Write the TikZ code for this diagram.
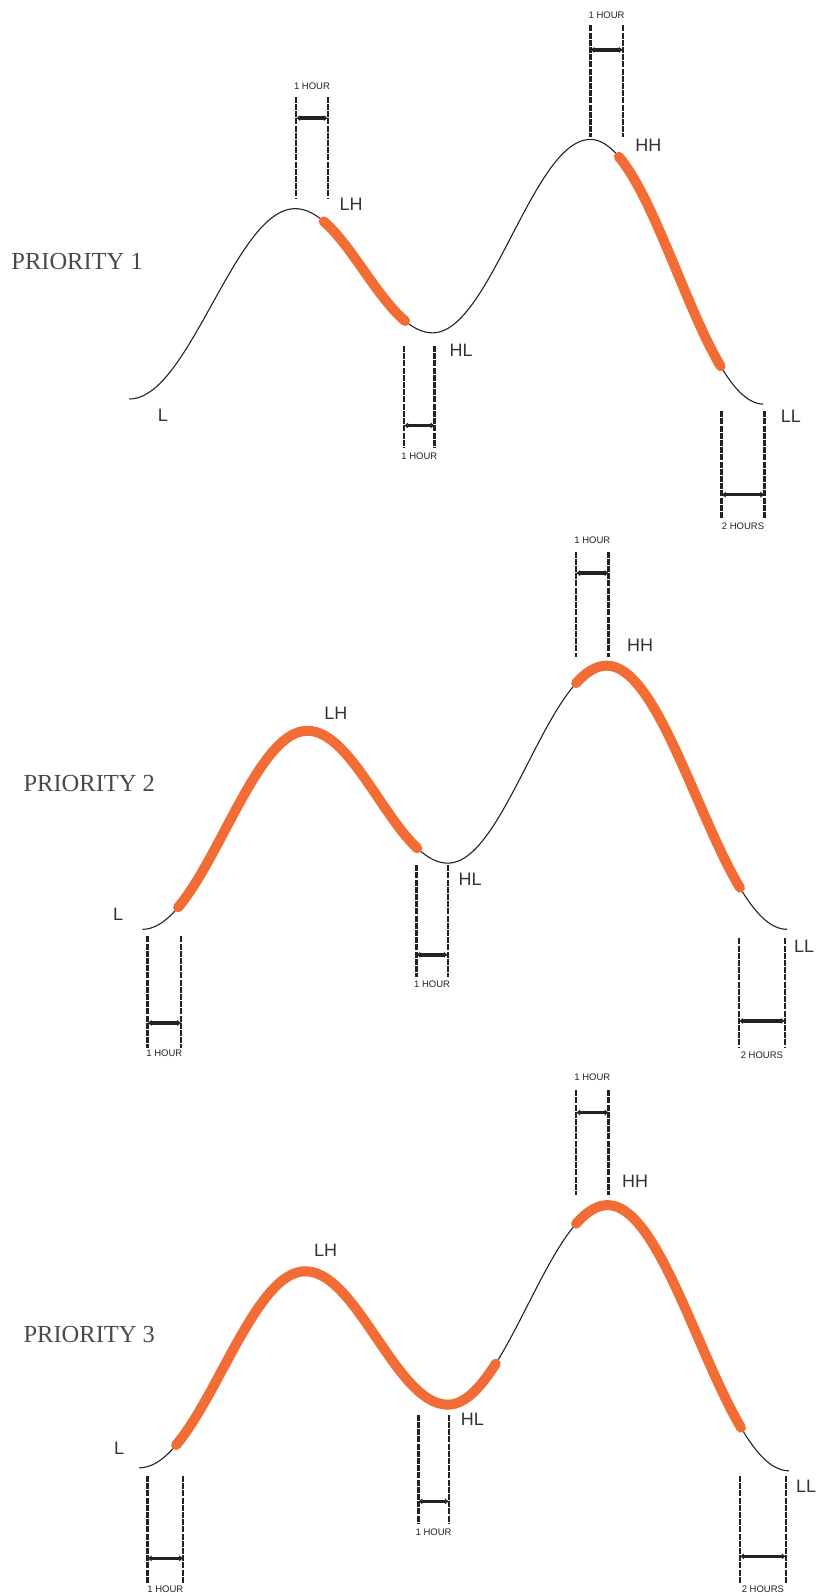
\documentclass[tikz,border=0pt]{standalone}
\usepackage{fontspec}
\setmainfont{Liberation Sans}
\newfontfamily\serifpr{Liberation Serif}
\usetikzlibrary{arrows.meta}
\definecolor{orng}{HTML}{F26D35}
\definecolor{dk}{HTML}{222222}
\definecolor{txt}{HTML}{333333}
\definecolor{prio}{HTML}{4A4A4A}
% cosine segment: [style]{x0}{y0}{x1}{y1}{from}{to}
\newcommand\cseg[7][]{\draw[#1] plot[domain=#6:#7, samples=50, smooth] (\x,{#3+(#5-#3)*(1-cos((\x-#2)/(#4-#2)*180))/2});}
% hour marker: {name}{x1}{x2}{ytop}{ybot}{yarrow}{ytext}{text}
\newcommand\hourmark[8]{%
  \coordinate (#1a) at (#2,#4); \coordinate (#1b) at (#2,#5);
  \coordinate (#1c) at (#3,#4); \coordinate (#1d) at (#3,#5);
  \coordinate (#1l) at (#2,#6); \coordinate (#1r) at (#3,#6);
  \draw[vline] (#1a) -- (#1b);
  \draw[vline] (#1c) -- (#1d);
  \draw[spanarrow] (#1l) -- (#1r);
  \node[small] (#1t) at ({(#2+#3)/2},#7) {#8};}
\begin{document}
\begin{tikzpicture}[x=1.0175pt,y=-1.0175pt,
  curve/.style={line width=1.1pt, draw=dk},
  hl/.style={line width=10pt, draw=orng, line cap=round},
  vline/.style={line width=2.5pt, draw=dk, dash pattern=on 6pt off 1.2pt},
  spanarrow/.style={line width=3.6pt, draw=dk, {Latex[length=4pt,width=6.5pt]}-{Latex[length=4pt,width=6.5pt]}},
  lab/.style={font=\fontsize{18}{18}\selectfont, text=txt, inner sep=0pt},
  small/.style={font=\fontsize{9.5}{10}\selectfont, text=dk, inner sep=0pt},
  prlab/.style={font=\serifpr\fontsize{24.5}{25}\selectfont, text=prio, inner sep=0pt, anchor=west}]
\useasboundingbox (0,0) rectangle (803,1568);

% ---------------- Panel 1 ----------------
\node[prlab] (p1) at (11,257) {PRIORITY 1};
\cseg[curve]{127}{392}{290}{205}{127}{290}
\cseg[curve]{290}{205}{425}{327}{290}{425}
\cseg[curve]{425}{327}{580}{137}{425}{580}
\cseg[curve]{580}{137}{750}{397}{580}{750}
\cseg[hl]{290}{205}{425}{327}{318}{398}
\cseg[hl]{580}{137}{750}{397}{608}{708}
\node[lab] (l1) at (160,408) {L};
\node[lab] (lh1) at (345,201) {LH};
\node[lab] (hl1) at (453,344) {HL};
\node[lab] (hh1) at (637,143) {HH};
\node[lab] (ll1) at (777,409) {LL};
\hourmark{m1a}{291}{322}{95}{195}{116}{85}{1 HOUR}
\hourmark{m1b}{580}{612}{25}{135}{49}{15}{1 HOUR}
\hourmark{m1c}{397}{427}{340}{440}{418}{448}{1 HOUR}
\hourmark{m1d}{709}{751}{404}{510}{486}{517}{2 HOURS}

% ---------------- Panel 2 ----------------
\node[prlab] (p2) at (23,770) {PRIORITY 2};
\cseg[curve]{140}{913}{302}{718}{140}{302}
\cseg[curve]{302}{718}{440}{848}{302}{440}
\cseg[curve]{440}{848}{596}{654}{440}{596}
\cseg[curve]{596}{654}{773}{913}{596}{773}
\cseg[hl]{140}{913}{302}{718}{175}{302}
\cseg[hl]{302}{718}{440}{848}{302}{410}
\cseg[hl]{440}{848}{596}{654}{566}{596}
\cseg[hl]{596}{654}{773}{913}{596}{727}
\node[lab] (l2) at (116,898) {L};
\node[lab] (lh2) at (330,701) {LH};
\node[lab] (hl2) at (462,864) {HL};
\node[lab] (hh2) at (629,634) {HH};
\node[lab] (ll2) at (790,930) {LL};
\hourmark{m2a}{566}{598}{542}{645}{563}{531}{1 HOUR}
\hourmark{m2b}{409}{440}{850}{960}{938}{967}{1 HOUR}
\hourmark{m2c}{145}{178}{920}{1030}{1005}{1035}{1 HOUR}
\hourmark{m2d}{726}{771}{922}{1030}{1003}{1037}{2 HOURS}

% ---------------- Panel 3 ----------------
\node[prlab] (p3) at (23,1311) {PRIORITY 3};
\cseg[curve]{137}{1442}{300}{1249}{137}{300}
\cseg[curve]{300}{1249}{440}{1380}{300}{440}
\cseg[curve]{440}{1380}{597}{1184}{440}{597}
\cseg[curve]{597}{1184}{775}{1445}{597}{775}
\cseg[hl]{137}{1442}{300}{1249}{173}{300}
\cseg[hl]{300}{1249}{440}{1380}{300}{440}
\cseg[hl]{440}{1380}{597}{1184}{440}{487}
\cseg[hl]{440}{1380}{597}{1184}{566}{597}
\cseg[hl]{597}{1184}{775}{1445}{597}{728}
\node[lab] (l3) at (117,1423) {L};
\node[lab] (lh3) at (320,1228) {LH};
\node[lab] (hl3) at (464,1394) {HL};
\node[lab] (hh3) at (624,1161) {HH};
\node[lab] (ll3) at (792,1460) {LL};
\hourmark{m3a}{566}{598}{1071}{1174}{1093}{1058}{1 HOUR}
\hourmark{m3b}{411}{441}{1390}{1497}{1475}{1505}{1 HOUR}
\hourmark{m3c}{145}{180}{1450}{1556}{1531}{1561}{1 HOUR}
\hourmark{m3d}{727}{772}{1450}{1556}{1529}{1561}{2 HOURS}
\end{tikzpicture}
\end{document}
